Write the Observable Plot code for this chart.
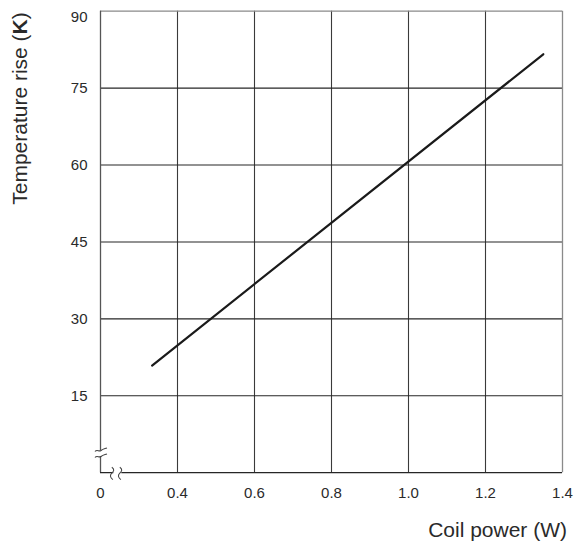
<!DOCTYPE html>
<html>
<head>
<meta charset="utf-8">
<script src="https://cdn.jsdelivr.net/npm/d3@7"></script>
<script src="https://cdn.jsdelivr.net/npm/@observablehq/plot@0.6"></script>
<style>
  html, body { margin: 0; padding: 0; background: #fff; }
  #chart { width: 575px; height: 542px; }
</style>
</head>
<body>
<div id="chart"></div>
<script>
// ---- data ----
const xTicks = [0.2, 0.4, 0.6, 0.8, 1.0, 1.2, 1.4];      // 0.2 position is labelled "0" (axis break)
const xTickLabels = ["0", "0.4", "0.6", "0.8", "1.0", "1.2", "1.4"];
const yTicks = [15, 30, 45, 60, 75, 90];
const yTickLabels = ["15", "30", "45", "60", "75", "90"];
const powerW = [0.334, 1.35];
const tempRiseK = [20.9, 81.6];

const xTitle = "Coil power (W)";
const yTitleMain = "Temperature rise (";
const yTitleBold = "K";
const yTitleEnd = ")";

const lineData = powerW.map((p, i) => ({power: p, rise: tempRiseK[i]}));

const font = "'Liberation Sans', Arial, Helvetica, sans-serif";
const yFmt = d => yTickLabels[yTicks.indexOf(d)];

const plot = Plot.plot({
  width: 575,
  height: 542,
  marginLeft: 100,
  marginRight: 13,
  marginTop: 10.7,
  marginBottom: 69.8,
  style: {fontFamily: font, fontSize: "15px", color: "#2a2a2a", background: "#fff"},
  x: {domain: [0.2, 1.4]},
  y: {domain: [0, 90]},
  marks: [
    Plot.ruleX(xTicks.slice(1, -1), {stroke: "#3a3a3a", strokeWidth: 1.1}),
    Plot.ruleY(yTicks.slice(0, -1), {stroke: "#262626", strokeWidth: 1.1}),
    Plot.ruleY([90], {stroke: "#8a8a8a", strokeWidth: 1.3}),
    Plot.ruleX([1.4], {stroke: "#8a8a8a", strokeWidth: 1.3}),
    Plot.ruleX([0.2], {stroke: "#555", strokeWidth: 1.3}),
    Plot.ruleY([0], {stroke: "#262626", strokeWidth: 1.3}),
    Plot.line(lineData, {x: "power", y: "rise", stroke: "#1a1a1a", strokeWidth: 2.2}),
    Plot.axisX({
      ticks: xTicks, tickSize: 0, tickPadding: 15, label: null,
      tickFormat: d => xTickLabels[xTicks.findIndex(t => Math.abs(t - d) < 1e-9)],
      fontSize: 15, fill: "#2a2a2a"
    }),
    Plot.axisY({
      ticks: yTicks.slice(0, -1), tickSize: 0, tickPadding: 13, label: null,
      tickFormat: yFmt, fontSize: 15, fill: "#2a2a2a"
    }),
    Plot.axisY({
      ticks: yTicks.slice(-1), tickSize: 0, tickPadding: 13, label: null, dy: 6,
      tickFormat: yFmt, fontSize: 15, fill: "#2a2a2a"
    })
  ]
});

document.getElementById("chart").appendChild(plot);

const svg = d3.select(plot);
const sx = plot.scale("x"), sy = plot.scale("y");
const x0 = sx.apply(0.2), y0 = sy.apply(0);

// axis break on y axis
const yb = sy.apply(3.75);
svg.append("rect").attr("x", x0 - 3).attr("y", yb - 3).attr("width", 6).attr("height", 6).attr("fill", "#fff");
[yb - 3, yb + 3].forEach(yy => {
  svg.append("path")
    .attr("d", `M${x0 - 5},${yy + 1.5} c2,-2.5 4,0.5 6,-1 s3,-1.5 6,-2.5`)
    .attr("fill", "none").attr("stroke", "#444").attr("stroke-width", 1.1);
});
// axis break on x axis
const xb = sx.apply(0.245);
svg.append("rect").attr("x", xb - 4).attr("y", y0 - 3).attr("width", 8).attr("height", 6).attr("fill", "#fff");
[xb - 4, xb + 4].forEach(xx => {
  svg.append("path")
    .attr("d", `M${xx - 1.5},${y0 - 5} c3,2 2,4 0,6 s-2,4 1,6.5`)
    .attr("fill", "none").attr("stroke", "#444").attr("stroke-width", 1.1);
});

// axis titles
svg.append("text")
  .attr("x", 567).attr("y", 537)
  .attr("text-anchor", "end")
  .attr("font-family", font).attr("font-size", 21).attr("fill", "#2a2a2a")
  .text(xTitle);

const yt = svg.append("text")
  .attr("transform", "translate(27,108.5) rotate(-90)")
  .attr("text-anchor", "middle")
  .attr("font-family", font).attr("font-size", 21).attr("fill", "#2a2a2a");
yt.append("tspan").text(yTitleMain);
yt.append("tspan").attr("font-weight", "bold").text(yTitleBold);
yt.append("tspan").text(yTitleEnd);
</script>
</body>
</html>
